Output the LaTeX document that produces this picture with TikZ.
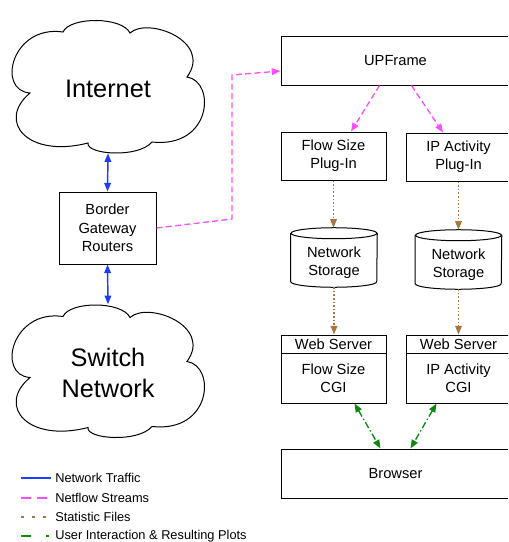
\documentclass[tikz,border=0pt]{standalone}
\usepackage{fontspec}
\setmainfont{Liberation Sans}
\usetikzlibrary{arrows.meta,calc}

\definecolor{trafficblue}{HTML}{1F3BFF}
\definecolor{flowpink}{HTML}{FF4DFF}
\definecolor{statbrown}{HTML}{A8763E}
\definecolor{usergreen}{HTML}{0B8A0B}

\newcommand\diagboxfont{\fontsize{11}{13.5}\selectfont}
\newcommand\diagcloudfont{\fontsize{19}{23.25}\selectfont}
\newcommand\diaglegendfont{\fontsize{9.6}{11}\selectfont}

% six-puff cloud outline around a given centre point
\newcommand\cloudoutline[1]{%
  \draw[line width=0.75pt, shift={(#1)}]
    (-78,6.5) .. controls (-112,4) and (-96,-62) .. (-45,-54.5)
    .. controls (-38,-70) and (14,-70) .. (22,-53.5)
    .. controls (40,-70) and (105,-45) .. (79,-9.5)
    .. controls (108,-5) and (104,62) .. (44,55.5)
    .. controls (30,72) and (-22,68) .. (-20,56.5)
    .. controls (-80,72) and (-112,35) .. cycle;}

\begin{document}
\begin{tikzpicture}[x=0.75pt,y=-0.75pt,
  box/.style={draw, line width=0.75pt, rectangle, inner sep=0pt, align=center, font=\diagboxfont},
  storebody/.style={rectangle, inner sep=0pt, align=center, font=\diagboxfont,
    minimum width=64.5pt, minimum height=36pt},
  netcloud/.style={rectangle, minimum width=144pt, inner sep=0pt,
    align=center, font=\diagcloudfont},
  traffic/.style={draw=trafficblue, line width=1.1pt, {Triangle[length=6.5pt,width=5pt]}-{Triangle[length=6.5pt,width=5pt]}},
  netflow/.style={draw=flowpink, line width=1pt, dash pattern=on 4.5pt off 2.5pt, -{Triangle[length=6.5pt,width=5pt]}},
  stat/.style={draw=statbrown, line width=1pt, dash pattern=on 1.2pt off 1.5pt, -{Triangle[length=6.5pt,width=5pt]}},
  user/.style={draw=usergreen, line width=1pt, dash pattern=on 5pt off 2pt on 1pt off 2pt,
    {Triangle[length=6.5pt,width=5pt]}-{Triangle[length=6.5pt,width=5pt]}},
  legendtext/.style={anchor=west, inner sep=0pt, font=\diaglegendfont},
  lw/.style={line width=1.5pt}
]
\useasboundingbox (0,0) rectangle (508,542);
\clip (0,0) rectangle (508,542);

% ---- left column: networks and routers ----
% text nodes sized so that south/north anchors sit on the cloud rims
\node[netcloud, minimum height=96pt] (internet) at (108,89) {Internet};
\cloudoutline{$(internet.center)+(0,-2.5)$}
\node[box, minimum width=72.75pt, minimum height=54pt, font=\fontsize{11}{13.9}\selectfont]
  (bgr) at (107.5,228) {Border\\Gateway\\Routers};
\node[netcloud, minimum height=102pt] (switch) at (108,372.5) {Switch\\Network};
\cloudoutline{$(switch.center)+(0,-1.5)$}

\draw[traffic] (internet.south) -- (bgr.north);
\draw[traffic] (bgr.south) -- (switch.north);

% ---- right column: processing chain ----
\node[box, minimum width=171.75pt, minimum height=36pt] (upframe) at (395.5,61) {UPFrame};
\node[box, minimum width=78.75pt, minimum height=36pt] (fsplug) at (333.5,156) {Flow Size\\Plug-In};
\node[box, minimum width=78.75pt, minimum height=36pt] (ipplug) at (458.5,157) {IP Activity\\Plug-In};

% storage cylinders
\node[storebody] (fsstore) at (334,263) {Network\\Storage};
\node[storebody] (ipstore) at (458.5,265) {Network\\Storage};
\foreach \s in {fsstore,ipstore}{
  \draw[line width=0.75pt]
    ($(\s.north west)+(0,-5.5)$) -- ($(\s.south west)+(0,-5.5)$)
    arc[start angle=180, end angle=360, x radius=32.25pt, y radius=4.125pt]
    -- ($(\s.north east)+(0,-5.5)$);
  \draw[line width=0.75pt] ($(\s.north)+(0,-5.5)$) ellipse[x radius=32.25pt, y radius=4.125pt];
}
\coordinate (fstop) at ($(fsstore.north)+(0,-11)$);
\coordinate (iptop) at ($(ipstore.north)+(0,-11)$);

% web server / CGI boxes
\node[box, minimum width=78.75pt, minimum height=13.5pt] (fsweb) at (333.5,344) {Web Server};
\node[box, minimum width=78.75pt, minimum height=37.5pt] (fscgi) at (333.5,378) {Flow Size\\CGI};
\node[box, minimum width=78.75pt, minimum height=13.5pt] (ipweb) at (458.5,344) {Web Server};
\node[box, minimum width=78.75pt, minimum height=37.5pt] (ipcgi) at (458.5,378) {IP Activity\\CGI};

\node[box, minimum width=171.75pt, minimum height=36.75pt] (browser) at (395.5,473.5) {Browser};

% ---- connectors ----
\coordinate (bend1) at (232,219);
\coordinate (bend2) at (232,75);
\draw[netflow] (bgr.east) -- (bend1) -- (bend2) -- ($(upframe.west)+(0,10)$);
\draw[netflow] ($(upframe.south west)+(99,0)$) -- ($(fsplug.north)+(17.5,0)$);
\draw[netflow] ($(upframe.south west)+(131,0)$) -- ($(ipplug.north)+(-15.5,0)$);

\draw[stat] (fsplug.south) -- (fsplug.south |- fstop);
\draw[stat] (ipplug.south) -- (ipplug.south |- iptop);
\draw[stat] (fsstore.south) -- (fsstore.south |- fsweb.north);
\draw[stat] (ipstore.south) -- (ipstore.south |- ipweb.north);

\draw[user] ($(fscgi.south west)+(74,0)$) -- ($(browser.north west)+(100,0)$);
\draw[user] ($(ipcgi.south west)+(31,0)$) -- ($(browser.north west)+(130,0)$);

% ---- legend ----
\coordinate (la1) at (21,478); \coordinate (lb1) at (51,478);
\coordinate (la2) at (21,498); \coordinate (lb2) at (51,498);
\coordinate (la3) at (21,517); \coordinate (lb3) at (51,517);
\coordinate (la4) at (21,536); \coordinate (lb4) at (51,536);
\draw[lw, trafficblue] (la1) -- (lb1);
\draw[lw, flowpink, dash pattern=on 7.5pt off 4.5pt] (la2) -- (lb2);
\draw[lw, statbrown, dash pattern=on 2.25pt off 6pt] (la3) -- (lb3);
\draw[lw, usergreen, dash pattern=on 7.5pt off 11.5pt on 2pt off 4pt] (la4) -- (lb4);
\node[legendtext] (lt1) at (55,478) {Network Traffic};
\node[legendtext] (lt2) at (55,498) {Netflow Streams};
\node[legendtext] (lt3) at (55,517) {Statistic Files};
\node[legendtext] (lt4) at (55,536) {User Interaction \& Resulting Plots};
\end{tikzpicture}
\end{document}
